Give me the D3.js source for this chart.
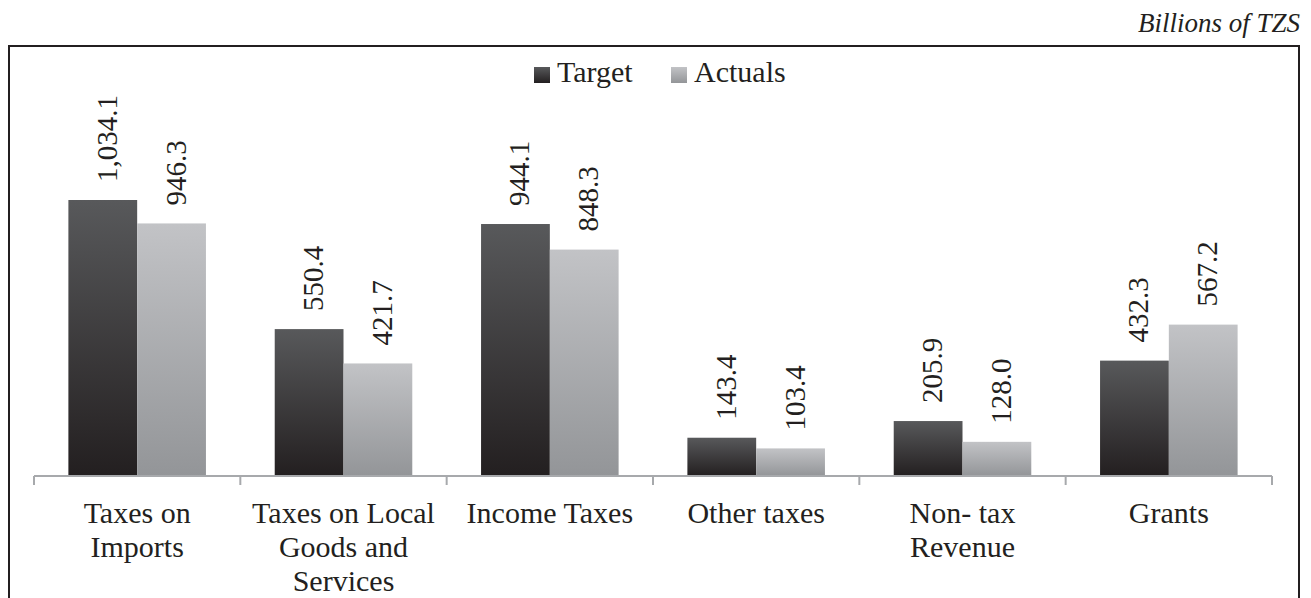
<!DOCTYPE html>
<html lang="en">
<head>
<meta charset="UTF-8">
<title>Revenue</title>
<style>
  body { margin: 0; background: #fff; }
  text { font-family: "Times New Roman", "Liberation Serif", Times, serif; fill: #231f20; }
</style>
</head>
<body>
<div id="chart"></div>
<script src="https://cdnjs.cloudflare.com/ajax/libs/d3/7.8.5/d3.min.js"></script>
<script>
    // data
    const categories = [
        ["Taxes on", "Imports"],
        ["Taxes on Local", "Goods and", "Services"],
        ["Income Taxes"],
        ["Other taxes"],
        ["Non- tax", "Revenue"],
        ["Grants"]
    ];
    const seriesNames = ["Target", "Actuals"];
    const target = [1034.1, 550.4, 944.1, 143.4, 205.9, 432.3];
    const actuals = [946.3, 421.7, 848.3, 103.4, 128.0, 567.2];

    const W = 1311, H = 598;
    const baseY = 476;

    const svg = d3.select("#chart").append("svg")
        .attr("width", W).attr("height", H);

    // gradients
    const defs = svg.append("defs");
    function grad(id, top, bottom) {
        const g = defs.append("linearGradient").attr("id", id)
            .attr("x1", 0).attr("y1", 0).attr("x2", 0).attr("y2", 1);
        g.append("stop").attr("offset", "0%").attr("stop-color", top);
        g.append("stop").attr("offset", "100%").attr("stop-color", bottom);
    }
    grad("gTarget", "#58595b", "#231f20");
    grad("gActual", "#c2c3c6", "#939598");
    const fills = ["url(#gTarget)", "url(#gActual)"];

    // frame
    svg.append("path")
        .attr("d", "M9,610 L9,46 L1299,46 L1299,610")
        .attr("fill", "none").attr("stroke", "#231f20").attr("stroke-width", 2);

    svg.append("text")
        .attr("x", 1300).attr("y", 32)
        .attr("text-anchor", "end")
        .attr("font-style", "italic")
        .attr("font-size", 27)
        .text("Billions of TZS");

    const x0 = d3.scaleBand().domain(d3.range(categories.length)).range([34, 1272]).paddingInner(0).paddingOuter(0);
    const x1 = d3.scaleBand().domain([0, 1]).range([0, x0.bandwidth()]).paddingOuter(0.5);
    const y = d3.scaleLinear().domain([0, 1034.1]).range([baseY, 200]);

    const groups = svg.selectAll("g.cat").data(categories).join("g")
        .attr("class", "cat")
        .attr("transform", (d, i) => `translate(${x0(i)},0)`);

    groups.each(function(d, i) {
        const g = d3.select(this);
        [target[i], actuals[i]].forEach((v, s) => {
            g.append("rect")
                .attr("x", x1(s)).attr("width", x1.bandwidth())
                .attr("y", y(v)).attr("height", baseY - y(v))
                .attr("fill", fills[s]);
            const lx = x1(s) + x1.bandwidth() / 2 + 4;
            const ly = y(v) - 18;
            g.append("text")
                .attr("transform", `translate(${lx},${ly}) rotate(-90)`)
                .attr("dominant-baseline", "central")
                .attr("font-size", 29)
                .text(v.toLocaleString("en-US", {minimumFractionDigits: 1, maximumFractionDigits: 1}));
        });
    });

    // axis
    const axis = svg.append("g");
    axis.append("line")
        .attr("x1", x0.range()[0]).attr("x2", x0.range()[1])
        .attr("y1", baseY).attr("y2", baseY)
        .attr("stroke", "#a7a9ac").attr("stroke-width", 2);
    d3.range(categories.length + 1).forEach(i => {
        const tx = x0.range()[0] + i * x0.bandwidth();
        axis.append("line")
            .attr("x1", tx).attr("x2", tx)
            .attr("y1", baseY).attr("y2", baseY + 9)
            .attr("stroke", "#a7a9ac").attr("stroke-width", 2);
    });

    groups.each(function(d, i) {
        const t = d3.select(this).append("text")
            .attr("text-anchor", "middle")
            .attr("font-size", 30);
        d.forEach((line, k) => {
            t.append("tspan")
                .attr("x", x0.bandwidth() / 2)
                .attr("y", 523 + k * 34)
                .text(line);
        });
    });

    // legend
    const legend = svg.append("g");
    const legX = [534, 671];
    seriesNames.forEach((name, s) => {
        legend.append("rect")
            .attr("x", legX[s]).attr("y", 67)
            .attr("width", 16).attr("height", 16)
            .attr("fill", fills[s]);
        legend.append("text")
            .attr("x", legX[s] + 23).attr("y", 82)
            .attr("font-size", 30)
            .text(name);
    });
</script>
</body>
</html>
